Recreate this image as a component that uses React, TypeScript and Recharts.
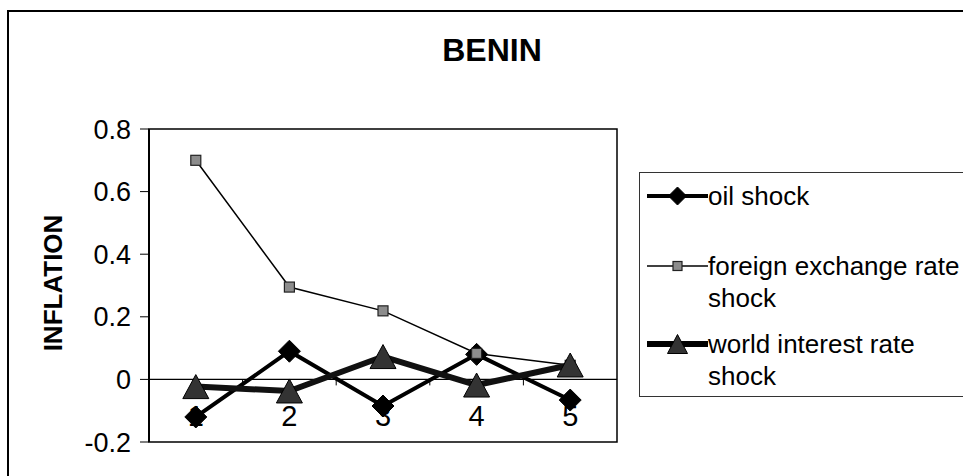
import React from 'react';
import { LineChart, Line, XAxis, YAxis, ReferenceLine, ReferenceArea, Legend } from 'recharts';

// ---- data ----
const periods = ['1', '2', '3', '4', '5'];
const oilShock = [-0.12, 0.09, -0.085, 0.08, -0.066];
const fxShock = [0.7, 0.295, 0.219, 0.083, 0.045];
const worldRateShock = [-0.023, -0.037, 0.073, -0.018, 0.046];
const yTicks = [-0.2, 0, 0.2, 0.4, 0.6, 0.8];
const seriesNames = ['oil shock', 'foreign exchange rate shock', 'world interest rate shock'];
const chartTitle = 'BENIN';
const yTitle = 'INFLATION';

const Y_MIN = -0.2;
const Y_MAX = 0.8;

const data = periods.map((p, i) => ({
  period: p,
  oil: oilShock[i],
  fx: fxShock[i],
  world: worldRateShock[i],
}));

const FONT = '"Liberation Sans", Arial, sans-serif';
const W = 963;
const H = 476;
const MARGIN = { top: 129, right: 346, left: 30, bottom: 4 };
const Y_AXIS_W = 119;
const X_AXIS_H = 30;
const PLOT_H = H - MARGIN.top - MARGIN.bottom - X_AXIS_H;

const diamond = (cx: number, cy: number, r: number) => (
  <path d={`M${cx},${cy - r}L${cx + r},${cy}L${cx},${cy + r}L${cx - r},${cy}Z`} fill="#000" stroke="#000" strokeWidth={1} />
);
const square = (cx: number, cy: number, s: number) => (
  <rect x={cx - s} y={cy - s} width={2 * s} height={2 * s} fill="#8c8c8c" stroke="#222" strokeWidth={1.2} />
);
const triangle = (cx: number, cy: number, w: number, h: number) => (
  <path d={`M${cx},${cy - h / 2}L${cx + w / 2},${cy + h / 2}L${cx - w / 2},${cy + h / 2}Z`} fill="#333" stroke="#000" strokeWidth={1} />
);

const legendLook: Record<string, { w: number; marker: (cx: number, cy: number) => React.ReactElement }> = {
  oil: { w: 4, marker: (cx, cy) => diamond(cx, cy, 9) },
  fx: { w: 1.5, marker: (cx, cy) => square(cx, cy, 4.5) },
  world: { w: 6, marker: (cx, cy) => triangle(cx, cy, 20, 19) },
};
const entryTops = [7, 77, 155];

const renderLegend = (props: any) => {
  const payload = [...(props.payload || [])].sort(
    (a: any, b: any) => seriesNames.indexOf(a.value) - seriesNames.indexOf(b.value)
  );
  return (
    <div style={{ position: 'relative', width: '100%', height: '100%' }}>
      {payload.map((e: any, i: number) => {
        const look = legendLook[e.dataKey] || legendLook.oil;
        return (
          <div key={String(e.dataKey)} style={{ position: 'absolute', left: 7, top: entryTops[i], display: 'flex', alignItems: 'flex-start' }}>
            <svg width={61} height={32} style={{ display: 'block' }}>
              <line x1={0} x2={61} y1={16} y2={16} stroke="#000" strokeWidth={look.w} />
              {look.marker(30.5, 16)}
            </svg>
            <div style={{ width: 256, fontSize: 26, lineHeight: '32px', fontFamily: FONT, color: '#000' }}>{e.value}</div>
          </div>
        );
      })}
    </div>
  );
};

const XTick = (props: any) => {
  const { x, y, payload, index } = props;
  const half = payload && payload.offset ? payload.offset : 0;
  const zeroY = y - (PLOT_H * (0 - Y_MIN)) / (Y_MAX - Y_MIN);
  return (
    <g>
      {index > 0 && <line x1={x - half} x2={x - half} y1={zeroY} y2={zeroY + 6} stroke="#000" strokeWidth={1} />}
      <text x={x} y={zeroY + 37} textAnchor="middle" dominantBaseline="central" fontSize={29} fontFamily={FONT} fill="#000">
        {payload.value}
      </text>
    </g>
  );
};

export default function App() {
  return (
    <div style={{ position: 'fixed', left: 0, top: 0, width: W, height: H, overflow: 'hidden', background: '#fff', fontFamily: FONT }}>
      <div style={{ position: 'absolute', left: 7, top: 10, width: 1200, height: 1200, borderLeft: '2px solid #000', borderTop: '2px solid #000' }} />
      <div style={{ position: 'absolute', left: 0, top: 0 }}>
        <LineChart width={W} height={H} data={data} margin={MARGIN}>
          <XAxis
            dataKey="period"
            type="category"
            scale="band"
            interval={0}
            height={X_AXIS_H}
            axisLine={false}
            tickLine={false}
            tickSize={0}
            tickMargin={0}
            tick={<XTick />}
          />
          <YAxis
            type="number"
            domain={[Y_MIN, Y_MAX]}
            ticks={yTicks}
            interval={0}
            width={Y_AXIS_W}
            tickSize={9}
            tickMargin={9}
            axisLine={{ stroke: '#000', strokeWidth: 2 }}
            tickLine={{ stroke: '#000', strokeWidth: 1 }}
            tick={{ fontSize: 27, fill: '#000', fontFamily: FONT }}
            tickFormatter={(v: number) => String(v)}
          />
          <ReferenceArea y1={Y_MIN} y2={Y_MAX} fill="none" fillOpacity={0} stroke="#000" strokeWidth={1.5} />
          <ReferenceLine y={0} stroke="#000" strokeWidth={1.2} />
          <Legend
            layout="vertical"
            align="center"
            verticalAlign="middle"
            content={renderLegend}
            wrapperStyle={{ left: 639, top: 172, width: 340, height: 225, border: '1px solid #333', boxSizing: 'border-box', background: '#fff' }}
          />
          <Line
            dataKey="oil"
            name={seriesNames[0]}
            stroke="#000"
            strokeWidth={4}
            isAnimationActive={false}
            dot={(p: any) => <g key={`o${p.index}`}>{diamond(p.cx, p.cy, 11)}</g>}
          />
          <Line
            dataKey="fx"
            name={seriesNames[1]}
            stroke="#000"
            strokeWidth={1.5}
            isAnimationActive={false}
            dot={(p: any) => <g key={`f${p.index}`}>{square(p.cx, p.cy, 5)}</g>}
          />
          <Line
            dataKey="world"
            name={seriesNames[2]}
            stroke="#111"
            strokeWidth={6}
            isAnimationActive={false}
            dot={(p: any) => <g key={`w${p.index}`}>{triangle(p.cx, p.cy, 26, 24)}</g>}
          />
        </LineChart>
      </div>
      <div style={{ position: 'absolute', left: 392, top: 32, width: 200, textAlign: 'center', fontSize: 32, lineHeight: '36px', fontWeight: 'bold', color: '#000' }}>
        {chartTitle}
      </div>
      <div
        style={{
          position: 'absolute',
          left: 53 - 100,
          top: 283 - 16,
          width: 200,
          height: 32,
          lineHeight: '32px',
          textAlign: 'center',
          fontSize: 26,
          fontWeight: 'bold',
          color: '#000',
          transform: 'rotate(-90deg)',
          transformOrigin: '50% 50%',
        }}
      >
        {yTitle}
      </div>
    </div>
  );
}
